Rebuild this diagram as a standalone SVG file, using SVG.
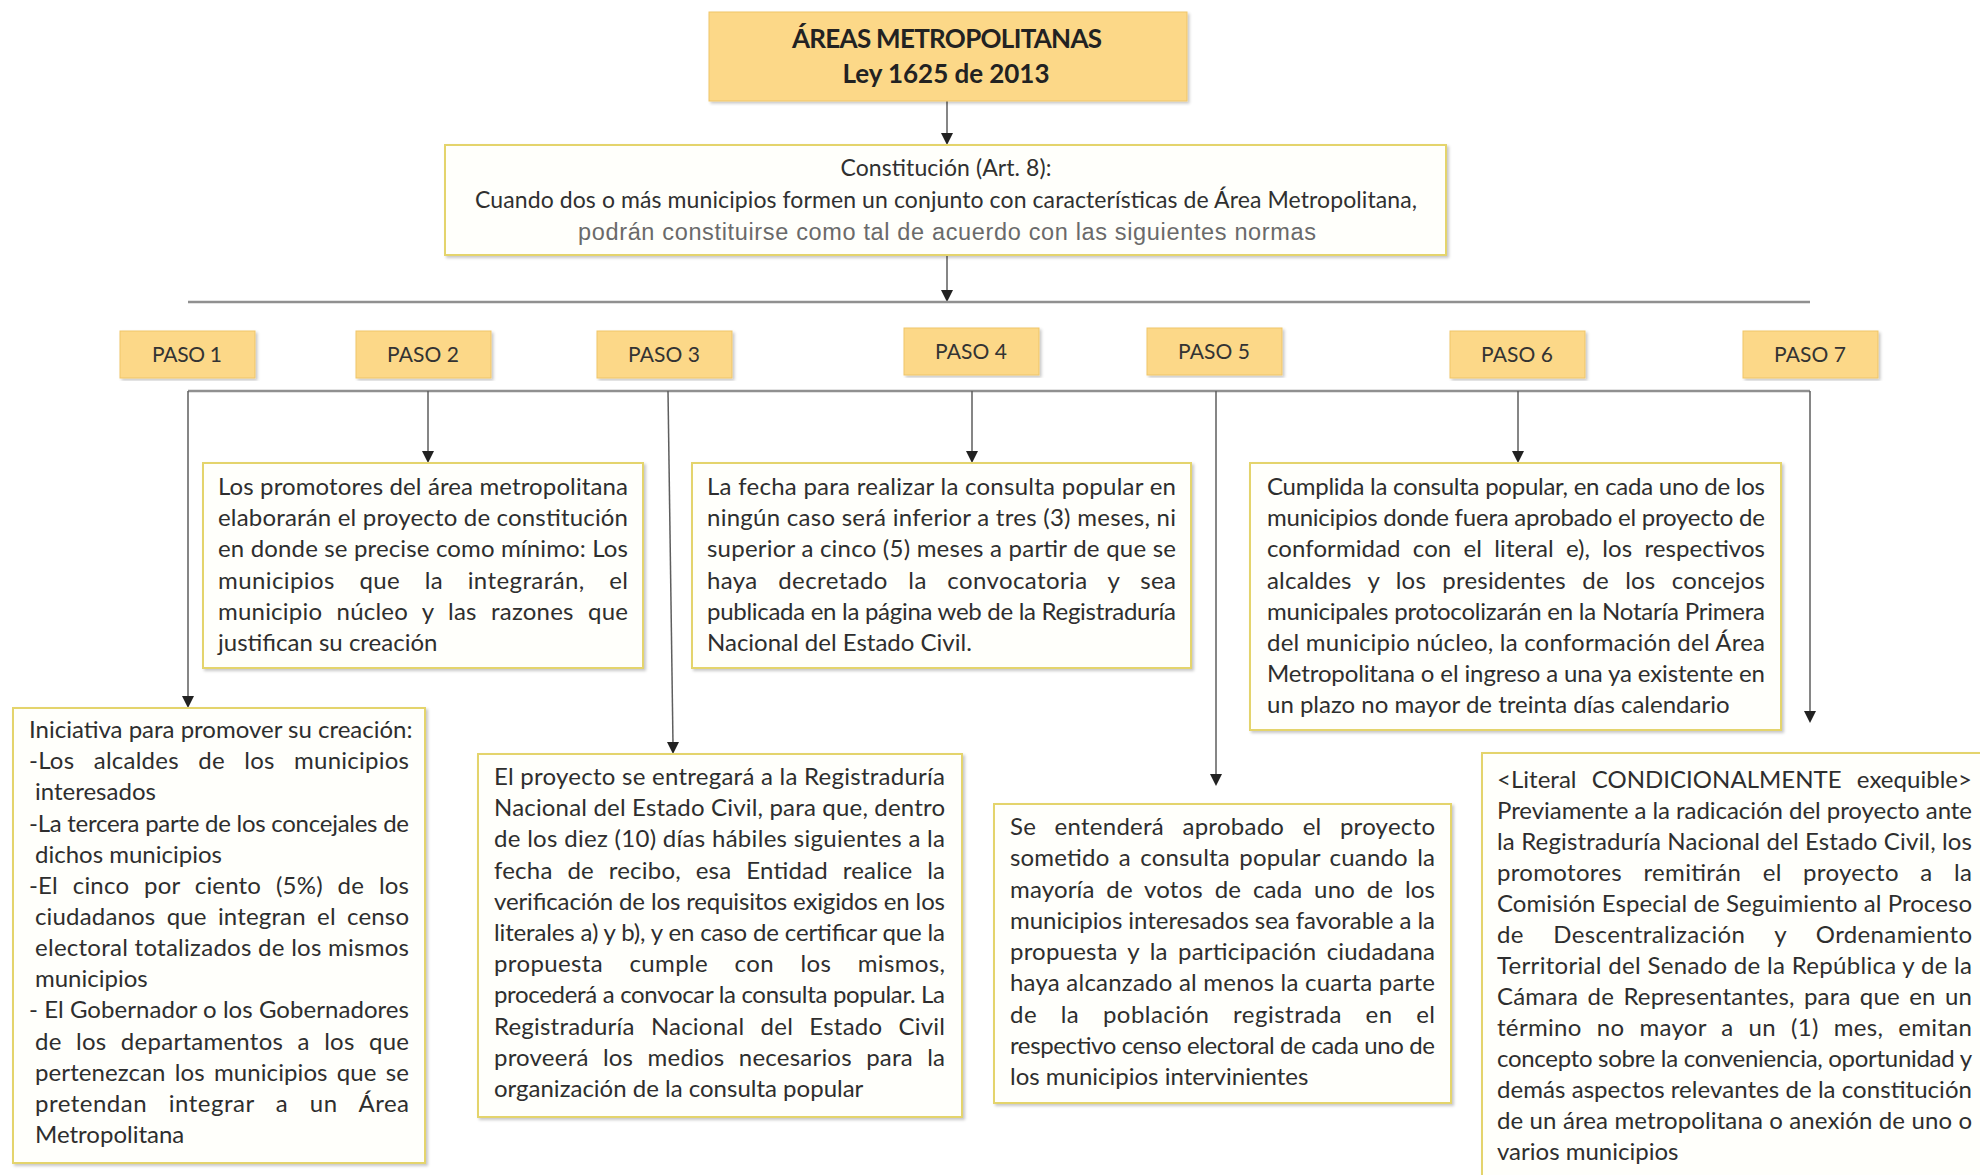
<svg xmlns="http://www.w3.org/2000/svg" width="1980" height="1175" viewBox="0 0 1980 1175">
<style>
.hdr{fill:#fcd888;stroke:#efc568;stroke-width:1}
.box{fill:#fffffb;stroke:#e4d46c;stroke-width:2}
.t{font-family:Lato,"Open Sans","Liberation Sans",sans-serif;font-size:24px;fill:#2e2e2e}
.p{font-family:Lato,"Open Sans","Liberation Sans",sans-serif;font-size:21px;fill:#333;text-anchor:middle}
.b{font-family:Lato,"Open Sans","Liberation Sans",sans-serif;font-size:26px;font-weight:bold;fill:#222;text-anchor:middle}
.c{font-family:Lato,"Open Sans","Liberation Sans",sans-serif;font-size:23px;fill:#303030;text-anchor:middle}
.g{font-family:"Liberation Sans",Arial,sans-serif;font-size:23.5px;fill:#6a6a6a;text-anchor:middle}
.ln{fill:none;stroke:#5e5e5e;stroke-width:1.5}
.hl{fill:none;stroke:#909090;stroke-width:2.5}
.ah{fill:#222}
</style>
<defs>
<filter id="sh" x="-5%" y="-5%" width="110%" height="110%">
<feDropShadow dx="2" dy="2" stdDeviation="1.5" flood-color="#000" flood-opacity="0.22"/>
</filter>
</defs>

<g id="connectors">
<path class="ln" d="M947,101 V135"/>
<path class="ah" d="M941,133 L953,133 L947,145 Z"/>
<path class="ln" d="M947,255 V292"/>
<path class="ah" d="M941,290 L953,290 L947,302 Z"/>
<path class="hl" d="M188,302 H1810"/>
<path class="hl" d="M188,391 H1810"/>
<path class="ln" d="M188,391 V698"/>
<path class="ah" d="M182,696 L194,696 L188,708 Z"/>
<path class="ln" d="M428,391 V453"/>
<path class="ah" d="M422,451 L434,451 L428,463 Z"/>
<path class="ln" d="M668,391 L673,744"/>
<path class="ah" d="M667,742 L679,742 L673,754 Z"/>
<path class="ln" d="M972,391 V453"/>
<path class="ah" d="M966,451 L978,451 L972,463 Z"/>
<path class="ln" d="M1216,391 V776"/>
<path class="ah" d="M1210,774 L1222,774 L1216,786 Z"/>
<path class="ln" d="M1518,391 V453"/>
<path class="ah" d="M1512,451 L1524,451 L1518,463 Z"/>
<path class="ln" d="M1810,391 V713"/>
<path class="ah" d="M1804,711 L1816,711 L1810,723 Z"/>
</g>

<g id="title">
<rect class="hdr" x="709" y="12" width="478" height="89" filter="url(#sh)"/>
<text class="b" x="947" y="48" textLength="310">ÁREAS METROPOLITANAS</text>
<text class="b" x="946" y="83" textLength="207">Ley 1625 de 2013</text>
</g>

<g id="constitucion">
<rect class="box" x="445" y="145" width="1001" height="110" filter="url(#sh)"/>
<text class="c" x="946" y="176" textLength="211">Constitución (Art. 8):</text>
<text class="c" x="946" y="208" textLength="942">Cuando dos o más municipios formen un conjunto con características de Área Metropolitana,</text>
<text class="g" x="947" y="240" textLength="738">podrán constituirse como tal de acuerdo con las siguientes normas</text>
</g>

<g id="paso1"><rect class="hdr" x="120" y="331" width="135" height="47" filter="url(#sh)"/><text class="p" x="187" y="362" textLength="70">PASO 1</text></g>
<g id="paso2"><rect class="hdr" x="356" y="331" width="135" height="47" filter="url(#sh)"/><text class="p" x="423" y="362" textLength="72">PASO 2</text></g>
<g id="paso3"><rect class="hdr" x="597" y="331" width="135" height="47" filter="url(#sh)"/><text class="p" x="664" y="362" textLength="72">PASO 3</text></g>
<g id="paso4"><rect class="hdr" x="904" y="328" width="135" height="47" filter="url(#sh)"/><text class="p" x="971" y="359" textLength="72">PASO 4</text></g>
<g id="paso5"><rect class="hdr" x="1147" y="328" width="135" height="47" filter="url(#sh)"/><text class="p" x="1214" y="359" textLength="72">PASO 5</text></g>
<g id="paso6"><rect class="hdr" x="1450" y="331" width="135" height="47" filter="url(#sh)"/><text class="p" x="1517" y="362" textLength="72">PASO 6</text></g>
<g id="paso7"><rect class="hdr" x="1743" y="331" width="135" height="47" filter="url(#sh)"/><text class="p" x="1810" y="362" textLength="72">PASO 7</text></g>

<g id="texto1">
<rect class="box" x="13" y="708" width="412" height="455" filter="url(#sh)"/>
<text class="t" x="29" y="738">Iniciativa para promover su creación:</text>
<text class="t" x="29" y="769" textLength="380" style="word-spacing:13px">-Los alcaldes de los municipios</text>
<text class="t" x="35" y="800">interesados</text>
<text class="t" x="29" y="831.5" textLength="380">-La tercera parte de los concejales de</text>
<text class="t" x="35" y="862.6">dichos municipios</text>
<text class="t" x="29" y="893.8" textLength="380" style="word-spacing:8.5px">-El cinco por ciento (5%) de los</text>
<text class="t" x="35" y="924.9" textLength="374" style="word-spacing:5px">ciudadanos que integran el censo</text>
<text class="t" x="35" y="956.1" textLength="374">electoral totalizados de los mismos</text>
<text class="t" x="35" y="987.2">municipios</text>
<text class="t" x="29" y="1018.4" textLength="380">- El Gobernador o los Gobernadores</text>
<text class="t" x="35" y="1049.5" textLength="374" style="word-spacing:8px">de los departamentos a los que</text>
<text class="t" x="35" y="1080.7" textLength="374" style="word-spacing:3px">pertenezcan los municipios que se</text>
<text class="t" x="35" y="1111.8" textLength="374" style="word-spacing:15px">pretendan integrar a un Área</text>
<text class="t" x="35" y="1143">Metropolitana</text>
</g>

<g id="texto2">
<rect class="box" x="203" y="463" width="440" height="205" filter="url(#sh)"/>
<text class="t" x="218" y="495" textLength="410">Los promotores del área metropolitana</text>
<text class="t" x="218" y="526.2" textLength="410">elaborarán el proyecto de constitución</text>
<text class="t" x="218" y="557.4" textLength="410">en donde se precise como mínimo: Los</text>
<text class="t" x="218" y="588.6" textLength="410" style="word-spacing:18px">municipios que la integrarán, el</text>
<text class="t" x="218" y="619.8" textLength="410" style="word-spacing:8px">municipio núcleo y las razones que</text>
<text class="t" x="218" y="651">justifican su creación</text>
</g>

<g id="texto3">
<rect class="box" x="478" y="754" width="484" height="363" filter="url(#sh)"/>
<text class="t" x="494" y="785" textLength="451">El proyecto se entregará a la Registraduría</text>
<text class="t" x="494" y="816.2" textLength="451">Nacional del Estado Civil, para que, dentro</text>
<text class="t" x="494" y="847.4" textLength="451">de los diez (10) días hábiles siguientes a la</text>
<text class="t" x="494" y="878.6" textLength="451" style="word-spacing:8.5px">fecha de recibo, esa Entidad realice la</text>
<text class="t" x="494" y="909.8" textLength="451">verificación de los requisitos exigidos en los</text>
<text class="t" x="494" y="941" textLength="451">literales a) y b), y en caso de certificar que la</text>
<text class="t" x="494" y="972.2" textLength="451" style="word-spacing:20px">propuesta cumple con los mismos,</text>
<text class="t" x="494" y="1003.4" textLength="451">procederá a convocar la consulta popular. La</text>
<text class="t" x="494" y="1034.6" textLength="451" style="word-spacing:10px">Registraduría Nacional del Estado Civil</text>
<text class="t" x="494" y="1065.8" textLength="451" style="word-spacing:8px">proveerá los medios necesarios para la</text>
<text class="t" x="494" y="1097">organización de la consulta popular</text>
</g>

<g id="texto4">
<rect class="box" x="692" y="463" width="499" height="205" filter="url(#sh)"/>
<text class="t" x="707" y="495" textLength="469">La fecha para realizar la consulta popular en</text>
<text class="t" x="707" y="526.2" textLength="469">ningún caso será inferior a tres (3) meses, ni</text>
<text class="t" x="707" y="557.4" textLength="469">superior a cinco (5) meses a partir de que se</text>
<text class="t" x="707" y="588.6" textLength="469" style="word-spacing:14px">haya decretado la convocatoria y sea</text>
<text class="t" x="707" y="619.8" textLength="469">publicada en la página web de la Registraduría</text>
<text class="t" x="707" y="651">Nacional del Estado Civil.</text>
</g>

<g id="texto5">
<rect class="box" x="994" y="804" width="457" height="299" filter="url(#sh)"/>
<text class="t" x="1010" y="835" textLength="425" style="word-spacing:12px">Se entenderá aprobado el proyecto</text>
<text class="t" x="1010" y="866.25" textLength="425" style="word-spacing:3px">sometido a consulta popular cuando la</text>
<text class="t" x="1010" y="897.5" textLength="425" style="word-spacing:5.5px">mayoría de votos de cada uno de los</text>
<text class="t" x="1010" y="928.75" textLength="425">municipios interesados sea favorable a la</text>
<text class="t" x="1010" y="960" textLength="425" style="word-spacing:4px">propuesta y la participación ciudadana</text>
<text class="t" x="1010" y="991.25" textLength="425">haya alcanzado al menos la cuarta parte</text>
<text class="t" x="1010" y="1022.5" textLength="425" style="word-spacing:17px">de la población registrada en el</text>
<text class="t" x="1010" y="1053.75" textLength="425">respectivo censo electoral de cada uno de</text>
<text class="t" x="1010" y="1085">los municipios intervinientes</text>
</g>

<g id="texto6">
<rect class="box" x="1250" y="463" width="531" height="267" filter="url(#sh)"/>
<text class="t" x="1267" y="495" textLength="498">Cumplida la consulta popular, en cada uno de los</text>
<text class="t" x="1267" y="526.2" textLength="498">municipios donde fuera aprobado el proyecto de</text>
<text class="t" x="1267" y="557.4" textLength="498" style="word-spacing:6px">conformidad con el literal e), los respectivos</text>
<text class="t" x="1267" y="588.6" textLength="498" style="word-spacing:10px">alcaldes y los presidentes de los concejos</text>
<text class="t" x="1267" y="619.8" textLength="498">municipales protocolizarán en la Notaría Primera</text>
<text class="t" x="1267" y="651" textLength="498">del municipio núcleo, la conformación del Área</text>
<text class="t" x="1267" y="682.2" textLength="498">Metropolitana o el ingreso a una ya existente en</text>
<text class="t" x="1267" y="713.4">un plazo no mayor de treinta días calendario</text>
</g>

<g id="texto7">
<rect class="box" x="1482" y="753" width="520" height="440" filter="url(#sh)"/>
<text class="t" x="1497" y="788" textLength="475" style="word-spacing:9px">&lt;Literal CONDICIONALMENTE exequible&gt;</text>
<text class="t" x="1497" y="819" textLength="475">Previamente a la radicación del proyecto ante</text>
<text class="t" x="1497" y="850" textLength="475">la Registraduría Nacional del Estado Civil, los</text>
<text class="t" x="1497" y="881" textLength="475" style="word-spacing:15px">promotores remitirán el proyecto a la</text>
<text class="t" x="1497" y="912" textLength="475">Comisión Especial de Seguimiento al Proceso</text>
<text class="t" x="1497" y="943" textLength="475" style="word-spacing:23px">de Descentralización y Ordenamiento</text>
<text class="t" x="1497" y="974" textLength="475">Territorial del Senado de la República y de la</text>
<text class="t" x="1497" y="1005" textLength="475" style="word-spacing:3px">Cámara de Representantes, para que en un</text>
<text class="t" x="1497" y="1036" textLength="475" style="word-spacing:8.5px">término no mayor a un (1) mes, emitan</text>
<text class="t" x="1497" y="1067" textLength="475">concepto sobre la conveniencia, oportunidad y</text>
<text class="t" x="1497" y="1098" textLength="475">demás aspectos relevantes de la constitución</text>
<text class="t" x="1497" y="1129" textLength="475">de un área metropolitana o anexión de uno o</text>
<text class="t" x="1497" y="1160">varios municipios</text>
</g>
</svg>
